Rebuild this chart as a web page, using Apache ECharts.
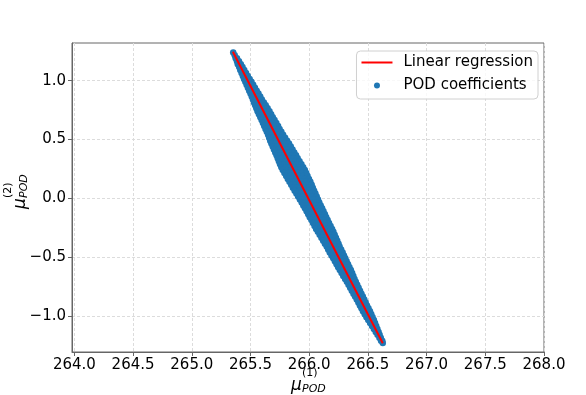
<!DOCTYPE html>
<html>
<head>
<meta charset="utf-8">
<script src="https://cdn.jsdelivr.net/npm/echarts@6/dist/echarts.min.js"></script>
<style>
  html, body { margin: 0; padding: 0; background: #fff; }
  #chart { width: 586px; height: 395px; }
</style>
</head>
<body>
<div id="chart"></div>
<script>
// tick values
var xTicks = [264.0, 264.5, 265.0, 265.5, 266.0, 266.5, 267.0, 267.5, 268.0];
var yTicks = [-1.0, -0.5, 0.0, 0.5, 1.0];

// regression line end points
var lineX = [265.35, 266.627];
var lineY = [1.245, -1.232];

// POD coefficients (y level -> x positions)
var coefRowY = [1.24, 1.215, 1.19, 1.165, 1.14, 1.115, 1.09, 1.065, 1.04, 1.015,
    0.99, 0.965, 0.94, 0.915, 0.89, 0.865, 0.84, 0.815, 0.79, 0.765,
    0.74, 0.715, 0.69, 0.665, 0.64, 0.615, 0.59, 0.565, 0.54, 0.515,
    0.49, 0.465, 0.44, 0.415, 0.39, 0.365, 0.34, 0.315, 0.29, 0.265,
    0.24, 0.215, 0.19, 0.165, 0.14, 0.115, 0.09, 0.065, 0.04, 0.015,
    -0.01, -0.035, -0.06, -0.085, -0.11, -0.135, -0.16, -0.185, -0.21, -0.235,
    -0.26, -0.285, -0.31, -0.335, -0.36, -0.385, -0.41, -0.435, -0.46, -0.485,
    -0.51, -0.535, -0.56, -0.585, -0.61, -0.635, -0.66, -0.685, -0.71, -0.735,
    -0.76, -0.785, -0.81, -0.835, -0.86, -0.885, -0.91, -0.935, -0.96, -0.985,
    -1.01, -1.035, -1.06, -1.085, -1.11, -1.135, -1.16, -1.185, -1.21, -1.23];
var coefRowX = [
    [265.353],
    [265.366],
    [265.374, 265.385],
    [265.385, 265.402],
    [265.392, 265.418],
    [265.404, 265.432],
    [265.413, 265.447],
    [265.424, 265.443, 265.462],
    [265.435, 265.456, 265.477],
    [265.445, 265.469, 265.493],
    [265.456, 265.482, 265.508],
    [265.467, 265.495, 265.523],
    [265.478, 265.508, 265.538],
    [265.489, 265.521, 265.553],
    [265.500, 265.534, 265.568],
    [265.511, 265.535, 265.559, 265.583],
    [265.521, 265.550, 265.575, 265.597],
    [265.530, 265.558, 265.586, 265.614],
    [265.540, 265.570, 265.600, 265.630],
    [265.550, 265.582, 265.614, 265.646],
    [265.560, 265.594, 265.628, 265.662],
    [265.572, 265.607, 265.641, 265.676],
    [265.584, 265.619, 265.654, 265.690],
    [265.595, 265.632, 265.668, 265.705],
    [265.606, 265.644, 265.682, 265.720],
    [265.617, 265.656, 265.696, 265.735],
    [265.628, 265.668, 265.708, 265.748],
    [265.639, 265.670, 265.701, 265.732, 265.763],
    [265.650, 265.682, 265.714, 265.746, 265.778],
    [265.659, 265.693, 265.727, 265.761, 265.795],
    [265.668, 265.704, 265.740, 265.776, 265.812],
    [265.678, 265.716, 265.753, 265.791, 265.828],
    [265.689, 265.727, 265.766, 265.805, 265.843],
    [265.700, 265.740, 265.779, 265.819, 265.858],
    [265.711, 265.751, 265.792, 265.833, 265.873],
    [265.722, 265.755, 265.788, 265.822, 265.855, 265.888],
    [265.732, 265.766, 265.800, 265.834, 265.868, 265.902],
    [265.742, 265.777, 265.812, 265.848, 265.883, 265.918],
    [265.752, 265.788, 265.825, 265.861, 265.898, 265.934],
    [265.763, 265.800, 265.837, 265.875, 265.912, 265.949],
    [265.775, 265.813, 265.850, 265.888, 265.925, 265.963],
    [265.789, 265.826, 265.863, 265.901, 265.938, 265.975],
    [265.804, 265.840, 265.877, 265.913, 265.950, 265.986],
    [265.818, 265.854, 265.890, 265.926, 265.962, 265.998],
    [265.832, 265.868, 265.903, 265.939, 265.974, 266.010],
    [265.847, 265.882, 265.916, 265.951, 265.986, 266.021],
    [265.861, 265.895, 265.929, 265.963, 265.997, 266.031],
    [265.876, 265.918, 265.959, 266.001, 266.042],
    [265.891, 265.931, 265.972, 266.013, 266.053],
    [265.906, 265.946, 265.985, 266.025, 266.064],
    [265.921, 265.959, 265.998, 266.037, 266.075],
    [265.936, 265.973, 266.011, 266.049, 266.086],
    [265.950, 265.987, 266.024, 266.061, 266.098],
    [265.964, 266.000, 266.037, 266.073, 266.110],
    [265.978, 266.014, 266.050, 266.086, 266.122],
    [265.992, 266.027, 266.063, 266.098, 266.134],
    [266.005, 266.040, 266.075, 266.110, 266.145],
    [266.019, 266.054, 266.088, 266.123, 266.157],
    [266.033, 266.067, 266.101, 266.135, 266.169],
    [266.046, 266.080, 266.114, 266.148, 266.182],
    [266.059, 266.093, 266.127, 266.161, 266.195],
    [266.074, 266.107, 266.140, 266.173, 266.206],
    [266.089, 266.121, 266.153, 266.185, 266.217],
    [266.104, 266.145, 266.187, 266.228],
    [266.119, 266.159, 266.199, 266.239],
    [266.134, 266.173, 266.211, 266.250],
    [266.149, 266.186, 266.223, 266.259],
    [266.162, 266.199, 266.236, 266.272],
    [266.175, 266.212, 266.249, 266.285],
    [266.190, 266.225, 266.261, 266.296],
    [266.205, 266.239, 266.273, 266.307],
    [266.219, 266.252, 266.286, 266.319],
    [266.233, 266.266, 266.298, 266.331],
    [266.247, 266.279, 266.311, 266.343],
    [266.261, 266.292, 266.324, 266.355],
    [266.276, 266.306, 266.336, 266.366],
    [266.290, 266.319, 266.347, 266.376],
    [266.306, 266.333, 266.359, 266.386],
    [266.321, 266.346, 266.372, 266.397],
    [266.335, 266.360, 266.384, 266.409],
    [266.349, 266.373, 266.397, 266.421],
    [266.363, 266.398, 266.433],
    [266.377, 266.411, 266.445],
    [266.391, 266.424, 266.457],
    [266.405, 266.437, 266.469],
    [266.419, 266.450, 266.481],
    [266.432, 266.462, 266.492],
    [266.445, 266.475, 266.505],
    [266.458, 266.488, 266.518],
    [266.473, 266.501, 266.529],
    [266.488, 266.514, 266.540],
    [266.503, 266.527, 266.551],
    [266.519, 266.540, 266.561],
    [266.535, 266.553, 266.571],
    [266.551, 266.581],
    [266.567, 266.591],
    [266.582, 266.600],
    [266.598, 266.610],
    [266.612, 266.622],
    [266.627]
];

var coefData = [];
for (var i = 0; i < coefRowY.length; i++) {
    for (var j = 0; j < coefRowX[i].length; j++) {
        coefData.push([coefRowX[i][j], coefRowY[i]]);
    }
}
var lineData = [[lineX[0], lineY[0]], [lineX[1], lineY[1]]];

var font = "DejaVu Sans";
var gridLine = { show: true, lineStyle: { color: '#dcdcdc', width: 1, type: [3, 2] } };

var chart = echarts.init(document.getElementById('chart'), null, { renderer: 'canvas' });
chart.setOption({
    animation: false,
    backgroundColor: '#fff',
    grid: {
        left: 72, right: 42, top: 43, bottom: 43,
        show: true, borderColor: '#666', borderWidth: 1
    },
    legend: {
        orient: 'vertical',
        right: 48, top: 51,
        data: [
            { name: 'Linear regression', icon: 'path://M0,0L31,0L31,2L0,2Z' },
            { name: 'POD coefficients', icon: 'circle' }
        ],
        itemWidth: 31, itemHeight: 6, itemGap: 8,
        padding: [4, 5, 6, 5],
        borderColor: '#d0d0d0', borderWidth: 1, borderRadius: 4,
        backgroundColor: 'rgba(255,255,255,0.8)',
        textStyle: { fontFamily: font, fontSize: 15, color: '#000', padding: [0, 0, 0, 6] }
    },
    xAxis: {
        type: 'value', min: 263.98, max: 268.0,
        axisLine: { show: true, onZero: false, lineStyle: { color: '#666' } },
        axisTick: { show: true, length: 4, customValues: xTicks, lineStyle: { color: '#666' } },
        axisLabel: {
            customValues: xTicks, margin: 6,
            fontFamily: font, fontSize: 15, color: '#000',
            formatter: function (v) { return v.toFixed(1); }
        },
        splitLine: gridLine
    },
    yAxis: {
        type: 'value', min: -1.306, max: 1.32,
        axisLine: { show: true, onZero: false, lineStyle: { color: '#666' } },
        axisTick: { show: true, length: 4, customValues: yTicks, lineStyle: { color: '#666' } },
        axisLabel: {
            customValues: yTicks, margin: 6,
            fontFamily: font, fontSize: 15, color: '#000',
            formatter: function (v) { return v.toFixed(1).replace('-', '\u2212'); }
        },
        splitLine: gridLine
    },
    series: [
        {
            name: 'POD coefficients',
            type: 'scatter',
            data: coefData,
            symbolSize: 6.5,
            itemStyle: { color: '#1f77b4', opacity: 1 },
            z: 2
        },
        {
            name: 'Linear regression',
            type: 'line',
            data: lineData,
            symbol: 'none',
            lineStyle: { color: '#ff0000', width: 2 },
            itemStyle: { color: '#ff0000' },
            z: 3
        }
    ],
    graphic: [
        {
            type: 'group', x: 308, y: 381,
            children: [
                { type: 'text', x: -17, y: 5, style: { text: 'μ', font: 'italic 17px "DejaVu Sans"', fill: '#000', verticalAlign: 'middle' } },
                { type: 'text', x: -6, y: -8, style: { text: '(1)', font: '11px "DejaVu Sans"', fill: '#000', verticalAlign: 'middle' } },
                { type: 'text', x: -6, y: 8, style: { text: 'POD', font: 'italic 11px "DejaVu Sans"', fill: '#000', verticalAlign: 'middle' } }
            ]
        },
        {
            type: 'group', x: 16, y: 192, rotation: Math.PI / 2,
            children: [
                { type: 'text', x: -17, y: 5, style: { text: 'μ', font: 'italic 17px "DejaVu Sans"', fill: '#000', verticalAlign: 'middle' } },
                { type: 'text', x: -6, y: -8, style: { text: '(2)', font: '11px "DejaVu Sans"', fill: '#000', verticalAlign: 'middle' } },
                { type: 'text', x: -6, y: 8, style: { text: 'POD', font: 'italic 11px "DejaVu Sans"', fill: '#000', verticalAlign: 'middle' } }
            ]
        }
    ]
});
</script>
</body>
</html>
